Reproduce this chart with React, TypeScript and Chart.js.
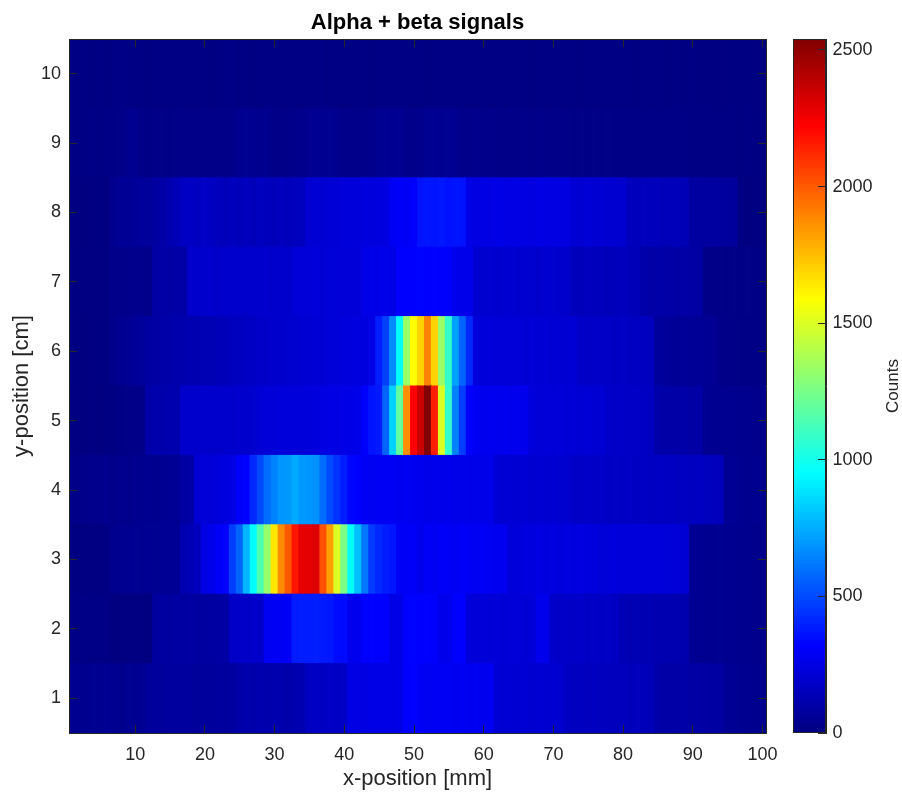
import React, { useEffect, useRef } from "react";
import { Chart, registerables } from "chart.js";

Chart.register(...registerables);

// ---------- data ----------
const xPositions: number[] = Array.from({ length: 100 }, (_, i) => i + 1); // column centres, mm
const yPositions: number[] = [1, 2, 3, 4, 5, 6, 7, 8, 9, 10]; // row centres, cm
const xTicks: number[] = [10, 20, 30, 40, 50, 60, 70, 80, 90, 100];
const yTicks: number[] = [1, 2, 3, 4, 5, 6, 7, 8, 9, 10];
const cbTicks: number[] = [0, 500, 1000, 1500, 2000, 2500];
const C_MIN = 0;
const C_MAX = 2540;

const row1: number[] = [
  38, 42, 36, 44, 40, 46, 42, 38, 45, 41, 48,
  65, 72, 68, 75, 70, 78, 72, 68, 74, 70, 76, 72, 80,
  105, 112, 108, 115, 110, 118, 112, 108, 116, 120,
  165, 172, 168, 175, 170, 178,
  245, 252, 248, 255, 250, 258, 252, 260,
  317, 320,
  295, 288, 292, 285, 290, 282, 288, 280, 285, 278, 282,
  215, 208, 212, 205, 210, 202, 207, 200, 205, 198,
  165, 158, 162, 155, 160, 152, 158, 150, 155, 148, 152, 145, 140,
  105, 98, 102, 95, 100, 92, 96, 88, 85, 80,
  50, 45, 42, 40, 38, 35,
];
const row2: number[] = [
  18, 14, 16, 12, 15, 13,
  4, 2, 5, 3, 6, 4,
  75, 82, 78, 85, 80, 88, 76, 84, 80, 86, 90,
  175, 182, 178, 186, 190,
  285, 292, 288, 295,
  385, 392, 388, 395,
  380, 378,
  345, 342,
  270, 275,
  317, 320, 315, 318,
  250, 255,
  317, 322, 315, 320, 312,
  270, 268,
  318, 315,
  225, 218, 222, 215, 220, 212, 218, 222, 214, 220,
  270, 265,
  185, 178, 182, 175, 180, 172, 178, 170, 175, 168,
  135, 128, 132, 125, 130, 122, 128, 120, 115, 110,
  50, 45, 42, 40, 44, 38, 40, 36, 38, 32, 30,
];
const row3: number[] = [
  5, 8, 4, 7, 6, 10,
  38, 42, 40, 45, 42, 48, 44, 50, 46, 52,
  120, 135, 150,
  250, 265, 300, 320,
  470, 567, 766, 952, 1150, 1326, 1650, 1875, 2000, 2170, 2285, 2290,
  2310, 2020, 1825, 1500, 1260, 960, 790, 615, 465, 417, 390, 370,
  300, 295, 305, 270,
  300, 292, 305, 296, 288, 300, 290, 284, 295, 286, 280, 275,
  220, 225,
  242, 236, 245, 238, 240, 234, 244, 237, 241, 235, 239,
  220, 222,
  232, 226, 230, 224, 228, 222, 226, 220, 224, 215, 210,
  50, 45, 42, 40, 44, 38, 40, 36, 38, 32, 30,
];
const row4: number[] = [
  22, 28, 25, 32, 30, 35, 28, 38, 34, 40, 36, 42, 38, 45, 48, 52,
  85, 95,
  210, 222, 218, 228, 235, 245,
  300, 320,
  417, 500, 590, 640, 690, 700, 740, 700, 690, 680, 590, 500, 440, 390, 330, 317,
  295, 288, 292, 285, 290, 282, 288, 280,
  275, 268, 272, 265, 270, 262, 268, 260, 265, 258, 262,
  215, 208, 212, 205, 210, 202, 207, 200, 205, 198, 202,
  185, 178, 182, 175, 180, 172, 178, 170, 176, 168, 174,
  166, 172, 165, 170, 162, 168, 160, 165, 158, 155, 150,
  50, 45, 42, 38, 40, 35,
];
const row5: number[] = [
  3, 5, 2, 6, 4, 7, 5,
  18, 22, 20, 24,
  105, 112, 108, 115, 110,
  185, 192, 188, 195, 190, 186, 193, 189, 196, 191, 198,
  215, 222, 218, 225, 220, 228, 222, 226, 230,
  245, 252, 248, 255, 258, 262,
  317, 370, 380, 570, 840, 1200, 1870, 2220, 2360, 2540, 2145, 1500, 1080, 640, 470, 317,
  285, 278, 282, 275, 280, 272, 278, 270,
  225, 218, 222, 215, 220, 212, 218, 210, 215, 208, 212,
  185, 178, 182, 175, 178, 170, 165,
  105, 98, 102, 95, 100, 92, 95,
  45, 42, 40, 38, 42, 36, 38, 34, 30,
];
const row6: number[] = [
  5, 7, 4, 8, 6, 9,
  30, 42, 48, 62, 68, 82, 88, 102, 104, 112,
  114, 122, 124, 132, 134, 142, 148, 157, 158,
  172, 174, 182, 182, 190, 190, 198, 198, 206,
  206, 214, 214, 222, 222, 230, 230, 238, 238, 250,
  390, 480, 665, 950, 1330, 1590, 1700, 1900, 1700, 1330, 1080, 720, 570, 420,
  230, 222, 226, 218, 224, 215, 220, 212, 218, 210, 216, 208, 214, 205, 210,
  185, 178, 182, 175, 180, 172, 176, 168, 165, 160, 155,
  70, 65, 62, 58, 60, 55, 58, 52, 50,
  25, 20, 22, 18, 15, 17, 12,
];
const row7: number[] = [
  5, 8, 4, 7, 6, 9,
  28, 32, 26, 34, 30, 29,
  90, 98, 92, 100, 95,
  185, 192, 188, 195, 182, 190, 186, 194, 189, 192, 185, 196, 188, 191, 187,
  215, 222, 218, 225, 212, 220, 224, 216, 222, 219,
  255, 262, 258, 265, 260,
  310, 318, 315, 322, 316, 320, 312, 318,
  272, 265, 268,
  205, 198, 202, 195, 200, 208, 196, 203, 199, 192, 201, 197, 194, 190,
  152, 148, 155, 145, 150, 142, 147, 153, 144, 140,
  105, 98, 102, 95, 100, 92, 97, 90, 88,
  25, 22, 20, 18, 22, 17, 20, 15, 18,
];
const row8: number[] = [
  4, 6, 3, 8, 5, 7,
  40, 55, 50, 62, 70, 66, 78,
  95, 120, 140,
  165, 172, 160, 175, 168,
  152, 145, 158, 148, 155, 142, 160, 150, 147, 156, 149, 153, 158,
  205, 212, 208, 215, 210,
  225, 232, 228, 235, 230, 238, 240,
  290, 305, 298, 310,
  365, 372, 368, 375, 360, 370, 362,
  255, 248, 252, 245, 258, 250, 246, 253, 249, 244, 251, 247, 242, 248, 240,
  212, 208, 215, 205, 210, 202, 207, 200,
  155, 148, 152, 145, 150, 142, 147, 140, 138,
  85, 80, 78, 82, 75, 72, 70,
  6, 4, 5, 3,
];
const row9: number[] = [
  10, 14, 12, 16, 13, 15, 18, 20, 38, 42,
  22, 18, 20, 24, 19, 22, 26, 24, 21, 25,
  23, 27, 24, 28, 40, 44, 42, 38, 41, 26,
  24, 28, 25, 30, 42, 45, 40, 43, 39, 27,
  29, 25, 28, 31, 44, 46, 42, 45, 30, 28,
  32, 43, 45, 41, 46, 42, 29, 26, 30, 27,
  25, 28, 24, 27, 23, 26, 22, 25, 21, 24,
  20, 23, 19, 22, 18, 21, 17, 20, 16, 19,
  15, 18, 14, 17, 13, 16, 12, 15, 11, 14,
  10, 13, 9, 12, 8, 11, 7, 10, 6, 8,
];
const row10: number[] = [
  8, 12, 10, 6, 14, 9, 11, 15, 10, 7,
  12, 9, 13, 10, 8, 14, 11, 9, 12, 10,
  7, 13, 10, 15, 9, 11, 8, 12, 14, 10,
  9, 11, 13, 8, 12, 10, 15, 9, 11, 7,
  13, 10, 12, 9, 14, 8, 11, 10, 13, 9,
  12, 8, 10, 14, 11, 9, 13, 7, 10, 12,
  9, 11, 8, 13, 10, 12, 7, 11, 9, 14,
  10, 8, 12, 9, 11, 13, 7, 10, 12, 8,
  11, 9, 10, 7, 12, 8, 9, 11, 6, 10,
  8, 7, 9, 6, 8, 5, 7, 6, 5, 4,
];
const rows: number[][] = [row1, row2, row3, row4, row5, row6, row7, row8, row9, row10];

// ---------- styles ----------
const FONT = "'Liberation Sans', Arial, Helvetica, sans-serif";
const AXIS = "#262626";

function clamp01(v: number) {
  return Math.max(0, Math.min(1, v));
}
function jetRGB(t: number): [number, number, number] {
  const r = clamp01(1.5 - Math.abs(4 * t - 3));
  const g = clamp01(1.5 - Math.abs(4 * t - 2));
  const b = clamp01(1.5 - Math.abs(4 * t - 1));
  return [Math.round(r * 255), Math.round(g * 255), Math.round(b * 255)];
}
function jet(v: number) {
  const t = clamp01((v - C_MIN) / (C_MAX - C_MIN));
  const [r, g, b] = jetRGB(t);
  return `rgb(${r},${g},${b})`;
}

export default function App() {
  const heatRef = useRef<HTMLCanvasElement>(null);
  const cbRef = useRef<HTMLCanvasElement>(null);

  useEffect(() => {
    Chart.defaults.font.family = FONT;
    Chart.defaults.color = AXIS;

    const tickGrid = {
      drawOnChartArea: false,
      drawTicks: true,
      tickLength: -8,
      color: AXIS,
      tickColor: AXIS,
      lineWidth: 1,
      z: 1,
      offset: false,
    };
    const border = { display: true, color: AXIS, width: 1, z: 1 };
    const plainLabel = (v: any) => String(v);

    const datasets = yPositions.map((y, ri) => ({
      data: xPositions.map((x) => ({ x, y: [y - 0.5, y + 0.5] })),
      backgroundColor: rows[ri].map((v) => jet(v)),
      borderWidth: 0,
      inflateAmount: 0.5,
      grouped: false,
      clip: 0,
      barPercentage: 1,
      categoryPercentage: 1,
    }));

    const heat = new Chart(heatRef.current as HTMLCanvasElement, {
      type: "bar",
      data: { datasets: datasets as any },
      options: {
        animation: false,
        responsive: false,
        events: [],
        layout: { padding: { left: 0, right: 14, top: 0, bottom: 0 } },
        plugins: {
          legend: { display: false },
          tooltip: { enabled: false },
          title: {
            display: true,
            text: "Alpha + beta signals",
            fullSize: false,
            color: "#000000",
            font: { family: FONT, size: 22, weight: "bold", lineHeight: 1.2 },
            padding: { top: 9.9, bottom: 2.7 },
          },
        },
        scales: {
          x: {
            type: "linear",
            position: "bottom",
            min: 0.5,
            max: 100.5,
            bounds: "data",
            offset: false,
            afterBuildTicks: (s: any) => {
              s.ticks = xTicks.map((v) => ({ value: v }));
            },
            afterFit: (s: any) => {
              s.height = 63;
              s.paddingLeft = 0;
              s.paddingRight = 0;
            },
            ticks: { color: AXIS, font: { size: 18 }, padding: 19, maxRotation: 0, autoSkip: false, callback: plainLabel },
            grid: tickGrid,
            border,
            title: {
              display: true,
              text: "x-position [mm]",
              color: AXIS,
              font: { size: 22, lineHeight: 1.2 },
              padding: { top: 0, bottom: 3.8 },
            },
          },
          x2: {
            type: "linear",
            position: "top",
            display: true,
            min: 0.5,
            max: 100.5,
            bounds: "data",
            offset: false,
            afterBuildTicks: (s: any) => {
              s.ticks = xTicks.map((v) => ({ value: v }));
            },
            afterFit: (s: any) => {
              s.height = 0;
              s.paddingLeft = 0;
              s.paddingRight = 0;
            },
            ticks: { display: false },
            grid: tickGrid,
            border,
          },
          y: {
            type: "linear",
            position: "left",
            min: 0.5,
            max: 10.5,
            bounds: "data",
            afterBuildTicks: (s: any) => {
              s.ticks = yTicks.map((v) => ({ value: v }));
            },
            afterFit: (s: any) => {
              s.width = 69;
              s.paddingTop = 0;
              s.paddingBottom = 0;
            },
            ticks: { color: AXIS, font: { size: 18 }, padding: 16, autoSkip: false, callback: plainLabel },
            grid: tickGrid,
            border,
            title: {
              display: true,
              text: "y-position [cm]",
              color: AXIS,
              font: { size: 22, lineHeight: 1.2 },
              padding: { top: 8.8, bottom: 0 },
            },
          },
          y2: {
            type: "linear",
            position: "right",
            display: true,
            min: 0.5,
            max: 10.5,
            bounds: "data",
            afterBuildTicks: (s: any) => {
              s.ticks = yTicks.map((v) => ({ value: v }));
            },
            afterFit: (s: any) => {
              s.width = 0;
              s.paddingTop = 0;
              s.paddingBottom = 0;
            },
            ticks: { display: false },
            grid: tickGrid,
            border,
          },
        },
      } as any,
    });

    const cbFrame = {
      id: "cbFrame",
      afterDraw(chart: any) {
        const { ctx, chartArea } = chart;
        ctx.save();
        ctx.strokeStyle = AXIS;
        ctx.lineWidth = 1;
        const l = Math.round(chartArea.left) + 0.5;
        const t = Math.round(chartArea.top) + 0.5;
        const r = Math.round(chartArea.right) - 0.5;
        const b = Math.round(chartArea.bottom) - 0.5;
        ctx.strokeRect(l, t, r - l, b - t);
        ctx.translate(113.5, (chartArea.top + chartArea.bottom) / 2);
        ctx.rotate(-Math.PI / 2);
        ctx.fillStyle = AXIS;
        ctx.font = `17px ${FONT}`;
        ctx.textAlign = "center";
        ctx.textBaseline = "middle";
        ctx.fillText("Counts", 0, 0);
        ctx.restore();
      },
    };

    const cb = new Chart(cbRef.current as HTMLCanvasElement, {
      type: "bar",
      data: {
        labels: [""],
        datasets: [
          {
            data: [[C_MIN, C_MAX]] as any,
            backgroundColor: (c: any) => {
              const chart = c.chart;
              const area = chart.chartArea;
              if (!area) return "rgb(0,0,128)";
              const g = chart.ctx.createLinearGradient(0, area.bottom, 0, area.top);
              [0, 0.125, 0.375, 0.625, 0.875, 1].forEach((t) => {
                const [r, gg, b] = jetRGB(t);
                g.addColorStop(t, `rgb(${r},${gg},${b})`);
              });
              return g;
            },
            borderWidth: 0,
            inflateAmount: 0,
            barPercentage: 1,
            categoryPercentage: 1,
            clip: 0,
          } as any,
        ],
      },
      options: {
        animation: false,
        responsive: false,
        events: [],
        layout: { padding: { left: 13, right: 0, top: 39, bottom: 63 } },
        plugins: { legend: { display: false }, tooltip: { enabled: false } },
        scales: {
          x: { display: false },
          y: {
            type: "linear",
            position: "right",
            min: C_MIN,
            max: C_MAX,
            bounds: "data",
            afterBuildTicks: (s: any) => {
              s.ticks = cbTicks.map((v) => ({ value: v }));
            },
            afterFit: (s: any) => {
              s.width = 76;
              s.paddingTop = 0;
              s.paddingBottom = 0;
            },
            ticks: { color: AXIS, font: { size: 18 }, padding: 14.5, autoSkip: false, callback: plainLabel },
            grid: tickGrid,
            border,
          },
        },
      } as any,
      plugins: [cbFrame],
    });

    return () => {
      heat.destroy();
      cb.destroy();
    };
  }, []);

  return (
    <div style={{ position: "fixed", left: 0, top: 0, width: 902, height: 796, background: "#ffffff" }}>
      <canvas
        ref={heatRef}
        width={780}
        height={796}
        style={{ position: "absolute", left: 0, top: 0, width: 780, height: 796 }}
      />
      <canvas
        ref={cbRef}
        width={122}
        height={796}
        style={{ position: "absolute", left: 780, top: 0, width: 122, height: 796 }}
      />
    </div>
  );
}
